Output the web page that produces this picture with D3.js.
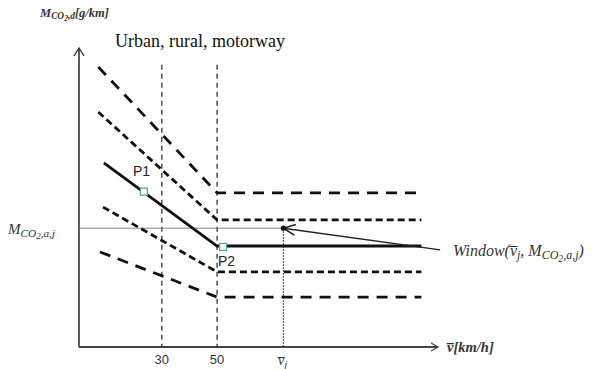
<!DOCTYPE html>
<html>
<head>
<meta charset="utf-8">
<script src="https://cdn.jsdelivr.net/npm/d3@7"></script>
<style>
  body { margin: 0; background: #fff; }
  svg { display: block; }
</style>
</head>
<body>
<div id="chart"></div>
<script>
// speed guide lines (km/h)
const guideSpeeds = [30, 50];
const tickLabels = ["30", "50"];
const vRef = 74;          // v̄j
const mRef = 40;          // M_CO2,a,j

// band curves: [speed, emission] (schematic units)
const curveA = [[7, 94.3], [50, 51.9], [124, 51.9]];
const curveB = [[7, 79.1], [50, 42.8], [124, 42.8]];
const curveMain = [[9, 62], [50, 34], [124, 34]];
const curveC = [[8.7, 47.1], [50, 25.3], [124, 25.3]];
const curveD = [[7.6, 32], [50, 16.8], [124, 16.8]];

const points = [
  { name: "P1", v: 23.5, m: 52.3 },
  { name: "P2", v: 52.2, m: 33.7 }
];
const windowFrom = [130.8, 32.7];

const width = 595, height = 369;
const svg = d3.select('#chart').append('svg')
  .attr('width', width).attr('height', height);

const x = d3.scaleLinear().domain([0, 130]).range([79, 438]);
const y = d3.scaleLinear().domain([0, 100]).range([347, 50]);

const line = d3.line().x(d => x(d[0])).y(d => y(d[1]));

// axes
svg.append('line')
  .attr('x1', x(0)).attr('x2', x(0)).attr('y1', y(0)).attr('y2', y(100) - 2)
  .attr('stroke', '#333').attr('stroke-width', 1.6);
svg.append('path')
  .attr('d', `M${x(0) - 5},${y(100) + 6} L${x(0)},${y(100) - 2} L${x(0) + 5},${y(100) + 6}`)
  .attr('fill', 'none').attr('stroke', '#333').attr('stroke-width', 1.4);
svg.append('line')
  .attr('x1', x(0)).attr('x2', x(130)).attr('y1', y(0)).attr('y2', y(0))
  .attr('stroke', '#444').attr('stroke-width', 1.8);
svg.append('path')
  .attr('d', `M${x(130) - 7},${y(0) - 4} L${x(130)},${y(0)} L${x(130) - 7},${y(0) + 4}`)
  .attr('fill', 'none').attr('stroke', '#444').attr('stroke-width', 1.3);

// vertical speed guides
svg.selectAll('line.guide')
  .data(guideSpeeds)
  .enter().append('line')
  .attr('class', 'guide')
  .attr('x1', d => x(d)).attr('x2', d => x(d))
  .attr('y1', y(95)).attr('y2', y(0))
  .attr('stroke', '#222').attr('stroke-width', 1.2)
  .attr('stroke-dasharray', '5,4');

svg.selectAll('text.tick')
  .data(guideSpeeds)
  .enter().append('text')
  .attr('class', 'tick')
  .attr('x', d => x(d)).attr('y', 364)
  .attr('text-anchor', 'middle')
  .attr('font-family', 'Liberation Sans, Arial, sans-serif')
  .attr('font-size', 13).attr('fill', '#333')
  .text((d, i) => tickLabels[i]);

// reference lines for the window point
svg.append('line')
  .attr('x1', x(0)).attr('x2', x(vRef)).attr('y1', y(mRef)).attr('y2', y(mRef))
  .attr('stroke', '#777').attr('stroke-width', 0.9);
svg.append('line')
  .attr('x1', x(vRef)).attr('x2', x(vRef)).attr('y1', y(mRef)).attr('y2', y(0))
  .attr('stroke', '#222').attr('stroke-width', 1.1)
  .attr('stroke-dasharray', '1.5,1.5');

// band curves
const longDash = '11,8', shortDash = '7,4';
[[curveA, longDash], [curveB, shortDash], [curveC, shortDash], [curveD, longDash]].forEach(([c, dash]) => {
  svg.append('path')
    .attr('d', line(c))
    .attr('fill', 'none').attr('stroke', '#111')
    .attr('stroke-width', 2.8).attr('stroke-dasharray', dash);
});
svg.append('path')
  .attr('d', line(curveMain))
  .attr('fill', 'none').attr('stroke', '#111').attr('stroke-width', 2.8);

// window arrow
svg.append('line')
  .attr('x1', x(windowFrom[0])).attr('y1', y(windowFrom[1]))
  .attr('x2', x(vRef)).attr('y2', y(mRef))
  .attr('stroke', '#222').attr('stroke-width', 1.5);
{
  const ang = Math.atan2(y(windowFrom[1]) - y(mRef), x(windowFrom[0]) - x(vRef));
  const px = x(vRef), py = y(mRef), L = 13, w = 0.42;
  svg.append('path')
    .attr('d', `M${px + L * Math.cos(ang - w)},${py + L * Math.sin(ang - w)} L${px},${py} L${px + L * Math.cos(ang + w)},${py + L * Math.sin(ang + w)}`)
    .attr('fill', 'none').attr('stroke', '#222').attr('stroke-width', 1.6);
  svg.append('circle').attr('cx', px).attr('cy', py).attr('r', 2.6).attr('fill', '#111');
}

// points
svg.selectAll('rect.pt')
  .data(points)
  .enter().append('rect')
  .attr('class', 'pt')
  .attr('x', d => x(d.v) - 3.5).attr('y', d => y(d.m) - 3.5)
  .attr('width', 7).attr('height', 7)
  .attr('fill', '#fff').attr('stroke', '#4fa59a').attr('stroke-width', 1.2);

svg.append('text').attr('x', 133).attr('y', 176)
  .attr('font-family', 'Liberation Sans, Arial, sans-serif').attr('font-size', 14).attr('fill', '#222')
  .text('P1');
svg.append('text').attr('x', 218).attr('y', 266)
  .attr('font-family', 'Liberation Sans, Arial, sans-serif').attr('font-size', 14).attr('fill', '#222')
  .text('P2');

// texts
const serif = 'Liberation Serif, Times New Roman, serif';
svg.append('text').attr('x', 115).attr('y', 47)
  .attr('font-family', serif).attr('font-size', 18).attr('fill', '#111')
  .text('Urban, rural, motorway');

function mathLabel(xp, yp, size, parts, bold) {
  const t = svg.append('text').attr('x', xp).attr('y', yp)
    .attr('font-family', serif).attr('font-style', 'italic')
    .attr('font-weight', bold ? 'bold' : 'normal')
    .attr('font-size', size).attr('fill', '#333');
  parts.forEach(p => {
    const s = t.append('tspan').text(p.t);
    if (p.sub === 1) s.attr('baseline-shift', '-25%').attr('font-size', size * 0.75);
    if (p.sub === 2) s.attr('baseline-shift', '-55%').attr('font-size', size * 0.6);
  });
  return t;
}

mathLabel(40, 17, 12.5, [{ t: 'M' }, { t: 'CO', sub: 1 }, { t: '2', sub: 2 }, { t: ',d', sub: 1 }, { t: '[g/km]' }], true);
mathLabel(8, 234, 15, [{ t: 'M' }, { t: 'CO', sub: 1 }, { t: '2', sub: 2 }, { t: ',a,j', sub: 1 }]);
mathLabel(447, 352, 14.5, [{ t: 'v\u0305' }, { t: '[km/h]', }], true);
mathLabel(278, 365, 14, [{ t: 'v\u0305' }, { t: 'j', sub: 1 }]);
mathLabel(453, 256, 16, [{ t: 'Window(v\u0305' }, { t: 'j', sub: 1 }, { t: ', M' }, { t: 'CO', sub: 1 }, { t: '2', sub: 2 }, { t: ',a,j', sub: 1 }, { t: ')' }]);
</script>
</body>
</html>
